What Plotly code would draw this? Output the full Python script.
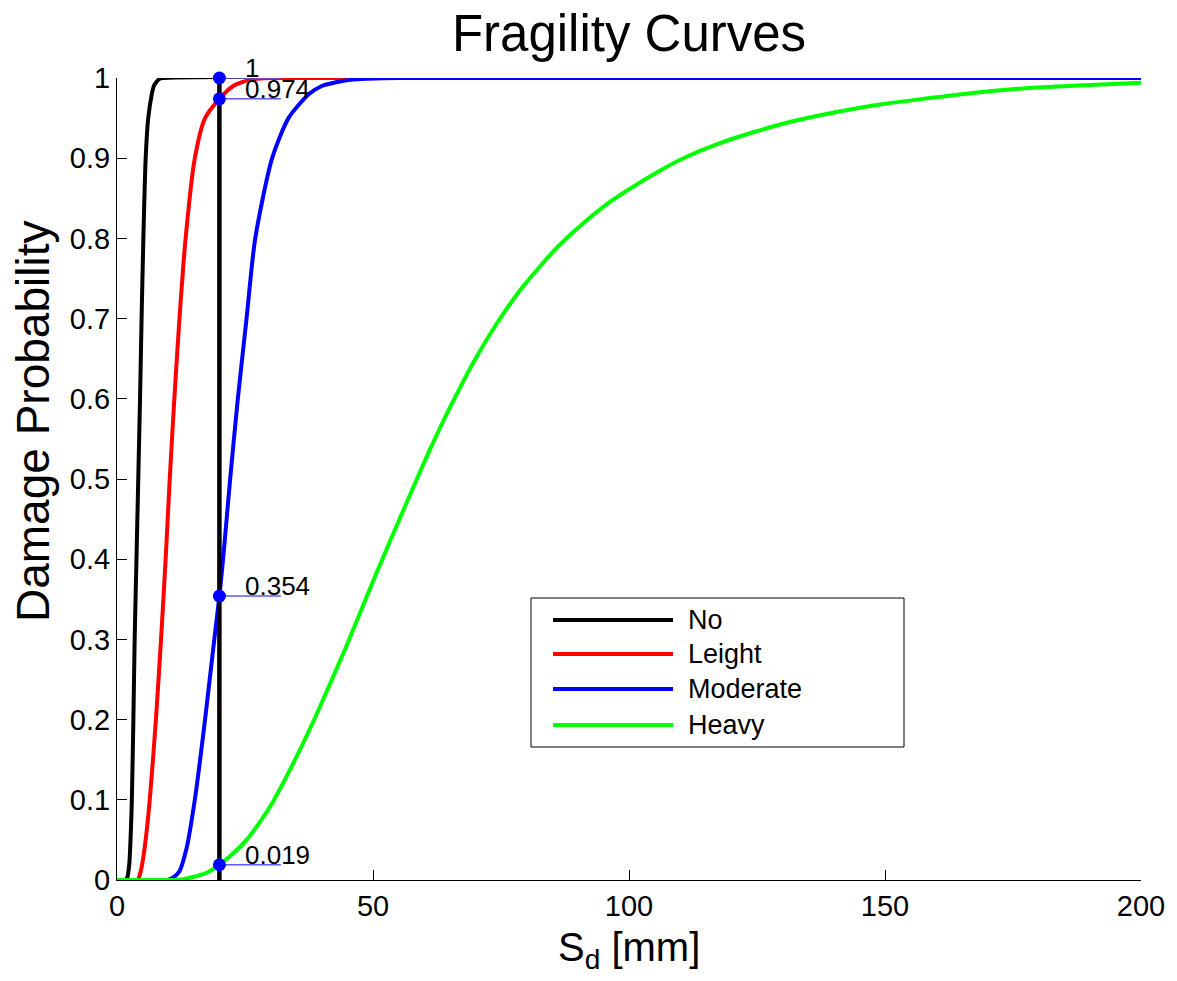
import plotly.graph_objects as go

# ---------------- data ----------------
series_names = ["No", "Leight", "Moderate", "Heavy"]
series_colors = ["#000000", "#ff0000", "#0000ff", "#00ff00"]

no_x = [0, 1.6, 2.0, 2.4, 2.7, 2.9, 3.2, 3.45, 3.8, 4.15, 4.5, 4.8, 5.15, 5.6, 6.1, 6.8, 7.2, 7.7, 8.3, 9.0, 200]
no_y = [0, 0, 0.003, 0.02, 0.06, 0.10, 0.20, 0.30, 0.40, 0.50, 0.60, 0.70, 0.80, 0.90, 0.95, 0.98, 0.99, 0.995, 0.999, 1.0, 1.0]

leight_x = [0, 4.0, 4.6, 5.4, 6.4, 7.6, 8.6, 9.5, 10.3, 11.2, 12.2, 13.4, 15.2, 17.2, 20.0, 22.7, 24.5, 26.0, 28.0, 30.0, 200]
leight_y = [0, 0, 0.01, 0.04, 0.10, 0.20, 0.30, 0.40, 0.50, 0.60, 0.70, 0.80, 0.90, 0.95, 0.974, 0.99, 0.995, 0.998, 0.9995, 1.0, 1.0]

moderate_x = [0, 10.0, 12.1, 13.6, 15.2, 17.2, 19.0, 20.0, 21.0, 22.1, 23.6, 25.3, 27.0, 30.3, 33.5, 37.5, 40.0, 43.0, 46.0, 49.0, 55.0, 200]
moderate_y = [0, 0, 0.01, 0.04, 0.10, 0.20, 0.30, 0.354, 0.42, 0.50, 0.60, 0.70, 0.80, 0.90, 0.95, 0.98, 0.99, 0.995, 0.998, 0.999, 1.0, 1.0]

heavy_x = [0, 10, 13, 15, 17.5, 20, 22.5, 25.3, 28, 30.5, 34, 38.3, 41.5, 44.9, 48.1, 50.7, 53.3, 56, 58.5,
           61, 63.7, 67, 70.3, 74.5, 78.7, 82.6, 86, 90, 95.3, 102, 110, 117, 124.6, 132, 139.3, 149,
           158.8, 168, 178.3, 189, 200]
heavy_y = [0, 0, 0.001, 0.004, 0.009, 0.019, 0.032, 0.050, 0.073, 0.098, 0.140, 0.197, 0.243, 0.293, 0.343, 0.383, 0.422, 0.462, 0.499,
           0.535, 0.572, 0.614, 0.653, 0.697, 0.735, 0.765, 0.789, 0.813, 0.841, 0.869, 0.898, 0.917, 0.933, 0.946, 0.956, 0.967,
           0.975, 0.982, 0.9875, 0.991, 0.994]

# data tips at Sd = 20 mm
sd_query = 20
tip_values = [1, 0.974, 0.354, 0.019]
tip_labels = ["1", "0.974", "0.354", "0.019"]
tip_line_end = 32
tip_label_x = 24.6

x_tickvals = [0, 50, 100, 150, 200]
x_ticktext = ["0", "50", "100", "150", "200"]
y_tickvals = [0, 0.1, 0.2, 0.3, 0.4, 0.5, 0.6, 0.7, 0.8, 0.9, 1.0]
y_ticktext = ["0", "0.1", "0.2", "0.3", "0.4", "0.5", "0.6", "0.7", "0.8", "0.9", "1"]

title_text = "Fragility Curves"
x_label = "S<sub>d</sub> [mm]"
y_label = "Damage Probability"

# ---------------- layout geometry ----------------
W, H = 1177, 981
L, R, T, B = 117, 36, 78, 101
PW, PH = W - L - R, H - T - B
FONT = "Liberation Sans, Arial, Helvetica, sans-serif"


def px_x(p):
    return (p - L) / PW


def px_y(p):
    return (H - B - p) / PH


fig = go.Figure()

curves = [(no_x, no_y), (leight_x, leight_y), (moderate_x, moderate_y), (heavy_x, heavy_y)]
for (xs, ys), name, col in zip(curves, series_names, series_colors):
    fig.add_trace(go.Scatter(x=xs, y=ys, mode="lines", name=name,
                             line=dict(color=col, width=4, shape="spline", smoothing=0.7),
                             showlegend=False, hoverinfo="skip"))

# vertical query line
fig.add_trace(go.Scatter(x=[sd_query, sd_query], y=[0, 1], mode="lines",
                         line=dict(color="#000000", width=4.5), showlegend=False,
                         hoverinfo="skip"))

# thin data-tip leader lines
for v in tip_values:
    fig.add_trace(go.Scatter(x=[sd_query, tip_line_end], y=[v, v], mode="lines",
                             line=dict(color="#5a5aff", width=1.5), showlegend=False,
                             hoverinfo="skip"))

# data-tip markers
fig.add_trace(go.Scatter(x=[sd_query] * len(tip_values), y=tip_values, mode="markers",
                         marker=dict(color="#0000ff", size=13), showlegend=False,
                         cliponaxis=False, hoverinfo="skip"))

annotations = []
for v, t in zip(tip_values, tip_labels):
    annotations.append(dict(x=tip_label_x, y=v, xref="x", yref="y", text=t,
                            showarrow=False, xanchor="left", yanchor="middle",
                            yshift=10, font=dict(family=FONT, size=26, color="#000000")))

# axis titles
annotations.append(dict(x=0.5, y=px_y(950), xref="paper", yref="paper", text=x_label,
                        showarrow=False, xanchor="center", yanchor="middle",
                        font=dict(family=FONT, size=40, color="#000000")))
annotations.append(dict(x=px_x(33), y=px_y(422), xref="paper", yref="paper", text=y_label,
                        showarrow=False, xanchor="center", yanchor="middle", textangle=-90,
                        font=dict(family=FONT, size=46, color="#000000")))

# custom legend (MATLAB style: long line samples)
shapes = []
leg_x0, leg_x1, leg_y0, leg_y1 = 531, 904, 598, 747
shapes.append(dict(type="rect", xref="paper", yref="paper",
                   x0=px_x(leg_x0), x1=px_x(leg_x1), y0=px_y(leg_y1), y1=px_y(leg_y0),
                   line=dict(color="#000000", width=1), fillcolor="#ffffff", layer="above"))
row_py = [620, 654, 689, 725]
for name, col, py in zip(series_names, series_colors, row_py):
    shapes.append(dict(type="line", xref="paper", yref="paper",
                       x0=px_x(553), x1=px_x(673), y0=px_y(py), y1=px_y(py),
                       line=dict(color=col, width=4), layer="above"))
    annotations.append(dict(x=px_x(686), y=px_y(py), xref="paper", yref="paper", text=name,
                            showarrow=False, xanchor="left", yanchor="middle",
                            font=dict(family=FONT, size=27, color="#000000")))

fig.update_layout(
    width=W, height=H,
    margin=dict(l=L, r=R, t=T, b=B),
    paper_bgcolor="#ffffff", plot_bgcolor="#ffffff",
    title=dict(text=title_text, x=0.5, xref="paper", xanchor="center",
               y=1 - 33 / H, yref="container", yanchor="middle",
               font=dict(family=FONT, size=51, color="#000000")),
    font=dict(family=FONT, color="#000000"),
    showlegend=False,
    annotations=annotations,
    shapes=shapes,
)

fig.update_xaxes(range=[0, 200], tickvals=x_tickvals, ticktext=x_ticktext,
                 ticks="inside", ticklen=10, tickwidth=1, tickcolor="#000000",
                 showline=True, linecolor="#000000", linewidth=1, mirror=False,
                 showgrid=False, zeroline=False,
                 tickfont=dict(family=FONT, size=29, color="#000000"))
fig.update_yaxes(range=[0, 1], tickvals=y_tickvals, ticktext=y_ticktext,
                 ticks="inside", ticklen=10, tickwidth=1, tickcolor="#000000",
                 showline=True, linecolor="#000000", linewidth=1, mirror=False,
                 showgrid=False, zeroline=False,
                 tickfont=dict(family=FONT, size=29, color="#000000"))

fig.write_html("out.html")
